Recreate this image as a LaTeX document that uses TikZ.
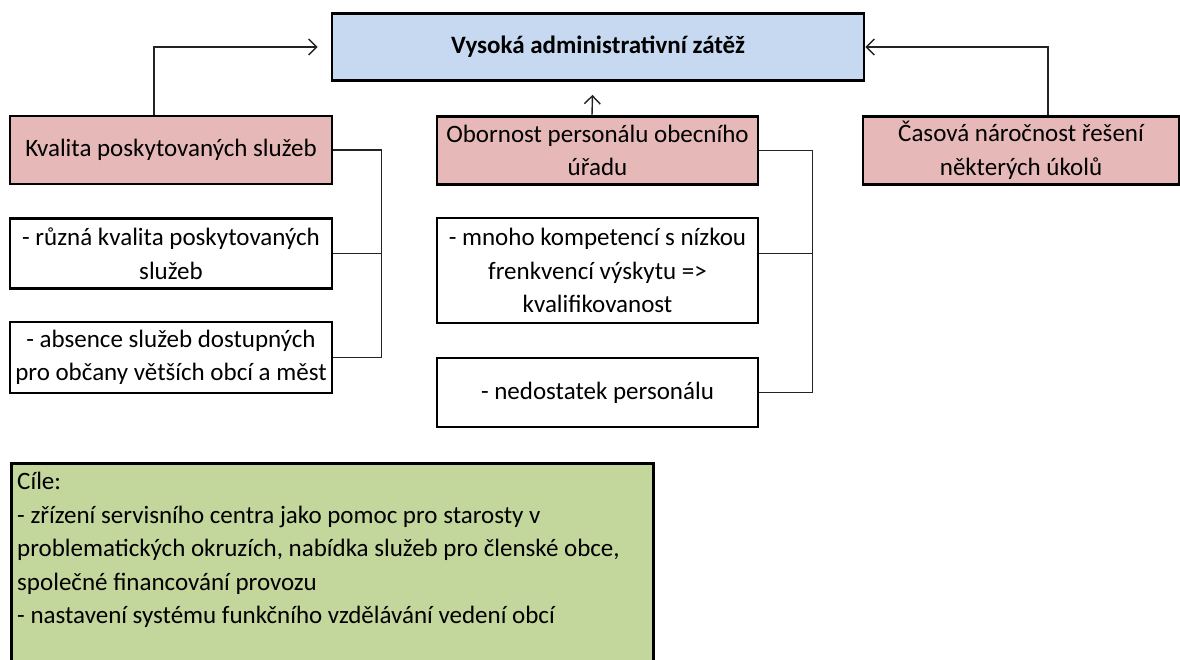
\documentclass[tikz,border=0pt]{standalone}
\usepackage{fontspec}
\setmainfont{Carlito}
\usepackage{tikz}
\usetikzlibrary{arrows.meta,positioning}
\definecolor{zatezBlue}{RGB}{198,217,241}
\definecolor{zatezPink}{RGB}{230,185,184}
\definecolor{zatezGreen}{RGB}{195,214,155}
\definecolor{zatezLine}{RGB}{35,35,35}

\begin{document}
\begin{tikzpicture}[x=1pt,y=-1pt,
  box/.style={draw=black, line width=2.8pt, inner sep=0pt, align=center,
    font=\fontsize{25}{33.5}\selectfont},
  cause/.style={box, fill=zatezPink},
  detail/.style={box, fill=white},
  link/.style={zatezLine, line width=1.4pt},
  conn/.style={link, -{Straight Barb[length=8pt,width=16pt,line width=1.4pt]}}]
\useasboundingbox (0,0) rectangle (1180,659);
\node[box, fill=zatezBlue, minimum width=532, minimum height=67,
  font=\fontsize{25}{33.5}\selectfont\bfseries] (zatez) at (598,47) {Vysoká administrativní zátěž};
\node[cause, minimum width=322, minimum height=68] (kvalita) at (171,150) {Kvalita poskytovaných služeb};
\node[cause, minimum width=321, minimum height=68] (obornost) at (597.5,150.5) {Obornost personálu obecního\\úřadu};
\node[cause, minimum width=316, minimum height=68] (casova) at (1021,150.5) {Časová náročnost řešení\\některých úkolů};
\node[detail, minimum width=322, minimum height=70] (ruzna) at (171,253.5) {- různá kvalita poskytovaných\\služeb};
\node[detail, minimum width=322, minimum height=71] (absence) at (171,357.5) {- absence služeb dostupných\\pro občany větších obcí a měst};
\node[detail, minimum width=321, minimum height=105] (mnoho) at (597.5,270.5) {- mnoho kompetencí s nízkou\\frenkvencí výskytu =>\\kvalifikovanost};
\node[detail, minimum width=321, minimum height=69] (nedostatek) at (597.5,392.5) {- nedostatek personálu};
\node[box, fill=zatezGreen, minimum width=642, minimum height=230, anchor=north west] (cile) at (10,462) {};
\node[anchor=north west, align=left, inner sep=0pt, font=\fontsize{25}{33.5}\selectfont]
  (cileText) at ([xshift=7pt,yshift=-10pt]cile.north west)
  {Cíle:\\- zřízení servisního centra jako pomoc pro starosty v\\problematických okruzích, nabídka služeb pro členské obce,\\společné financování provozu\\- nastavení systému funkčního vzdělávání vedení obcí};
\draw[conn] ([xshift=-17pt]kvalita.north) |- ([xshift=-13pt]zatez.west);
\draw[conn] ([xshift=27pt]casova.north) |- (zatez.east);
\draw[conn] ([xshift=-5.5pt]obornost.north) -- ([xshift=-5.5pt,yshift=-13pt]zatez.south);
\draw[link] (kvalita.east) -- ++(48,0) coordinate (kvalBus) -- (kvalBus |- absence.east);
\draw[link] (ruzna.east) -- (ruzna.east -| kvalBus);
\draw[link] (absence.east) -- (absence.east -| kvalBus);
\draw[link] (obornost.east) -- ++(53,0) coordinate (oborBus) -- (oborBus |- nedostatek.east);
\draw[link] ([yshift=17pt]mnoho.east) -- ([yshift=17pt]mnoho.east -| oborBus);
\draw[link] (nedostatek.east) -- (nedostatek.east -| oborBus);
\end{tikzpicture}
\end{document}
